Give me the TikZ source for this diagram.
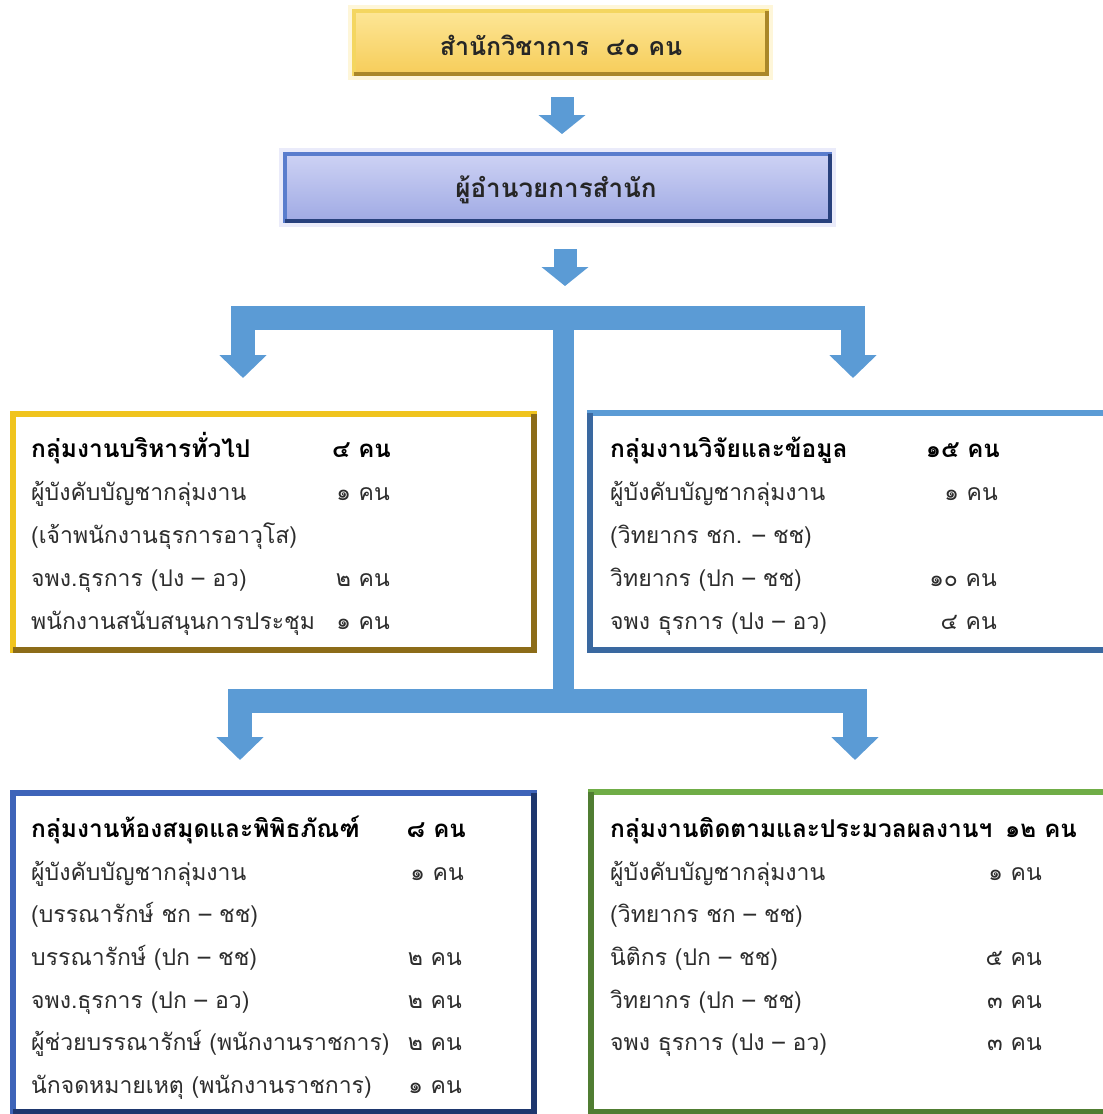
\documentclass[tikz,border=0pt]{standalone}
\usepackage{fontspec}
\setmainfont{Loma}[Script=Thai]
\usetikzlibrary{arrows.meta}
\definecolor{arrowblue}{RGB}{91,155,213}
\definecolor{goldL}{RGB}{240,196,30}
\definecolor{goldD}{RGB}{140,108,24}
\definecolor{lblueL}{RGB}{91,155,213}
\definecolor{lblueD}{RGB}{58,104,160}
\definecolor{dblueL}{RGB}{62,100,185}
\definecolor{dblueD}{RGB}{30,55,110}
\definecolor{greenL}{RGB}{112,173,71}
\definecolor{greenD}{RGB}{80,125,50}
\definecolor{topTop}{RGB}{253,230,150}
\definecolor{topBot}{RGB}{246,205,90}
\definecolor{topEdgeL}{RGB}{244,214,96}
\definecolor{topEdgeD}{RGB}{170,135,40}
\definecolor{dirTop}{RGB}{205,210,244}
\definecolor{dirBot}{RGB}{160,170,228}
\definecolor{dirEdgeL}{RGB}{90,125,205}
\definecolor{dirEdgeD}{RGB}{40,65,125}
\definecolor{txtgray}{RGB}{45,45,45}
\tikzset{
  grpbox/.style={rectangle, fill=white, line width=6pt, outer sep=0pt, inner sep=0pt, line join=miter},
  txt/.style={anchor=base west, inner sep=0pt, font=\fontsize{23}{26}\selectfont, text=txtgray},
  hd/.style={anchor=base west, inner sep=0pt, font=\fontsize{24.5}{28}\selectfont\bfseries, text=black},
  cnt/.style={anchor=base east, inner sep=0pt, font=\fontsize{23}{26}\selectfont, text=txtgray},
  hdcnt/.style={anchor=base east, inner sep=0pt, font=\fontsize{24}{28}\selectfont\bfseries, text=black},
  blockarrow/.style={draw=arrowblue, line width=23pt, -{Triangle[width=46pt,length=19pt]}},
  branch/.style={draw=arrowblue, line width=24pt, line join=miter,
     {Triangle[width=46pt,length=23pt]}-{Triangle[width=46pt,length=23pt]}},
}
\begin{document}
\begin{tikzpicture}[x=1pt,y=-1pt]
\useasboundingbox (0,0) rectangle (1103,1114);
\fill[white] (0,0) rectangle (1103,1114);
\begin{scope}
\clip (0,0) rectangle (1103,1114);

% ---- top box ----
\draw[topTop!60, line width=12pt, opacity=0.6] (354,11) rectangle (767,74);
\node[rectangle, outer sep=0pt, minimum width=413pt, minimum height=63pt,
      top color=topTop, bottom color=topBot, draw=topEdgeL, line width=4pt]
      (top) at (560.5,42.5) {};
\draw[topEdgeD, line width=4pt, line join=miter] (top.north east) -- (top.south east) -- (top.south west);
\node[font=\fontsize{25}{28}\selectfont\bfseries, text=black!85] (toptxt) at (561,45) {สำนักวิชาการ~~๔๐ คน};

% ---- director box ----
\draw[dirTop!70!white, line width=12pt, opacity=0.6] (285,154) rectangle (830,221);
\node[rectangle, outer sep=0pt, minimum width=545pt, minimum height=67pt,
      top color=dirTop, bottom color=dirBot, draw=dirEdgeL, line width=4pt]
      (dir) at (557.5,187.5) {};
\draw[dirEdgeD, line width=4pt, line join=miter] (dir.north east) -- (dir.south east) -- (dir.south west);
\node[font=\fontsize{26}{29}\selectfont\bfseries, text=black!85] (dirtxt) at (556,190) {ผู้อำนวยการสำนัก};

% ---- small arrows ----
\coordinate (a1s) at (562,97);
\coordinate (a1e) at (562,134);
\coordinate (a2s) at (565,249);
\coordinate (a2e) at (565,286);
\draw[blockarrow] (a1s) -- (a1e);
\draw[blockarrow] (a2s) -- (a2e);

% ---- branching connectors ----
\coordinate (stemtop) at (563.5,306);
\coordinate (stembot) at (563.5,712);
\draw[draw=arrowblue, line width=21pt] (stemtop) -- (stembot);
\coordinate (b1l) at (243,378);
\coordinate (b1r) at (853,378);
\draw[branch] (b1l) -- (243,317.5) -- (853,317.5) -- (b1r);
\coordinate (b2l) at (240,760);
\coordinate (b2r) at (855,760);
\draw[branch] (b2l) -- (240,701) -- (855,701) -- (b2r);

% ---- group boxes ----
\node[grpbox, draw=goldL, minimum width=521pt, minimum height=236pt] (boxA) at (273.5,532) {};
\draw[goldD, line width=6pt, line join=miter] (boxA.north east) -- (boxA.south east) -- (boxA.south west);

\node[grpbox, draw=lblueL, minimum width=525pt, minimum height=237pt] (boxB) at (852.5,531.5) {};
\draw[lblueD, line width=6pt, line join=miter] (boxB.north west) -- (boxB.south west) -- (boxB.south east);

\node[grpbox, draw=dblueL, minimum width=521pt, minimum height=319pt] (boxC) at (273.5,952.5) {};
\draw[dblueD, line width=6pt, line join=miter] (boxC.north east) -- (boxC.south east) -- (boxC.south west);

\node[grpbox, draw=greenL, minimum width=524pt, minimum height=320pt] (boxD) at (853,952) {};
\draw[greenD, line width=6pt, line join=miter] (boxD.north west) -- (boxD.south west) -- (boxD.south east);

% ---- box A text ----
\node[hd]  (a1) at (31,457) {กลุ่มงานบริหารทั่วไป};
\node[hdcnt] (a1c) at (391,457) {๔ คน};
\node[txt] (a2) at (31,500) {ผู้บังคับบัญชากลุ่มงาน};
\node[cnt] (a2c) at (390,500) {๑ คน};
\node[txt] (a3) at (31,543) {(เจ้าพนักงานธุรการอาวุโส)};
\node[txt] (a4) at (31,586) {จพง.ธุรการ (ปง – อว)};
\node[cnt] (a4c) at (390,586) {๒ คน};
\node[txt] (a5) at (31,629) {พนักงานสนับสนุนการประชุม};
\node[cnt] (a5c) at (390,629) {๑ คน};

% ---- box B text ----
\node[hd]  (b1) at (610,457) {กลุ่มงานวิจัยและข้อมูล};
\node[hdcnt] (b1c) at (1000,457) {๑๕ คน};
\node[txt] (b2) at (610,500) {ผู้บังคับบัญชากลุ่มงาน};
\node[cnt] (b2c) at (998,500) {๑ คน};
\node[txt] (b3) at (610,543) {(วิทยากร ชก. – ชช)};
\node[txt] (b4) at (610,586) {วิทยากร (ปก – ชช)};
\node[cnt] (b4c) at (997,586) {๑๐ คน};
\node[txt] (b5) at (610,629) {จพง ธุรการ (ปง – อว)};
\node[cnt] (b5c) at (997,629) {๔ คน};

% ---- box C text ----
\node[hd]  (c1) at (31,837) {กลุ่มงานห้องสมุดและพิพิธภัณฑ์};
\node[hdcnt] (c1c) at (466,837) {๘ คน};
\node[txt] (c2) at (31,880) {ผู้บังคับบัญชากลุ่มงาน};
\node[cnt] (c2c) at (464,880) {๑ คน};
\node[txt] (c3) at (31,922) {(บรรณารักษ์ ชก – ชช)};
\node[txt] (c4) at (31,965) {บรรณารักษ์ (ปก – ชช)};
\node[cnt] (c4c) at (462,965) {๒ คน};
\node[txt] (c5) at (31,1008) {จพง.ธุรการ (ปก – อว)};
\node[cnt] (c5c) at (462,1008) {๒ คน};
\node[txt] (c6) at (31,1050) {ผู้ช่วยบรรณารักษ์ (พนักงานราชการ)};
\node[cnt] (c6c) at (462,1050) {๒ คน};
\node[txt] (c7) at (31,1093) {นักจดหมายเหตุ (พนักงานราชการ)};
\node[cnt] (c7c) at (462,1093) {๑ คน};

% ---- box D text ----
\node[hd]  (d1) at (610,837) {กลุ่มงานติดตามและประมวลผลงานฯ};
\node[hdcnt] (d1c) at (1077,837) {๑๒ คน};
\node[txt] (d2) at (610,880) {ผู้บังคับบัญชากลุ่มงาน};
\node[cnt] (d2c) at (1042,880) {๑ คน};
\node[txt] (d3) at (610,922) {(วิทยากร ชก – ชช)};
\node[txt] (d4) at (610,965) {นิติกร (ปก – ชช)};
\node[cnt] (d4c) at (1042,965) {๕ คน};
\node[txt] (d5) at (610,1008) {วิทยากร (ปก – ชช)};
\node[cnt] (d5c) at (1042,1008) {๓ คน};
\node[txt] (d6) at (610,1050) {จพง ธุรการ (ปง – อว)};
\node[cnt] (d6c) at (1042,1050) {๓ คน};
\end{scope}
\end{tikzpicture}
\end{document}
